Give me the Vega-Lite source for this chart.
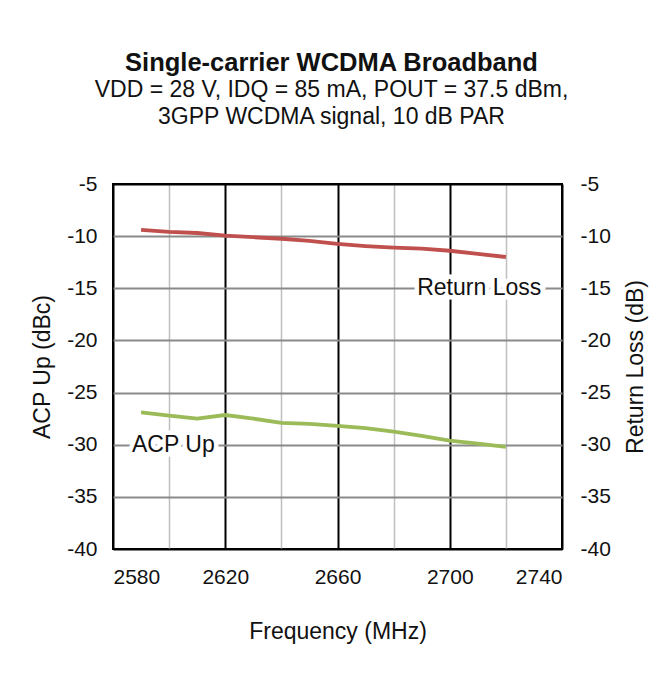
{
  "$schema": "https://vega.github.io/schema/vega-lite/v6.json",
  "width": 449,
  "height": 365,
  "autosize": {"type": "none"},
  "padding": {"left": 113, "top": 184, "right": 104, "bottom": 127},
  "background": "white",
  "config": {
    "font": "Liberation Sans",
    "view": {"stroke": "black", "strokeWidth": 2},
    "axis": {
      "labelFont": "Liberation Sans",
      "titleFont": "Liberation Sans",
      "labelColor": "#111",
      "titleColor": "#111",
      "domain": false,
      "ticks": false,
      "labelFontSize": 21,
      "titleFontSize": 23,
      "titleFontWeight": "normal"
    }
  },
  "title": {
    "text": "Single-carrier WCDMA Broadband",
    "subtitle": ["VDD = 28 V, IDQ = 85 mA, POUT = 37.5 dBm,", "3GPP WCDMA signal, 10 dB PAR"],
    "font": "Liberation Sans",
    "subtitleFont": "Liberation Sans",
    "fontSize": 25.5,
    "fontWeight": "bold",
    "subtitleFontSize": 23,
    "subtitleLineHeight": 27,
    "subtitlePadding": 3,
    "color": "#111",
    "subtitleColor": "#111",
    "anchor": "middle",
    "dx": -6,
    "offset": 44
  },
  "datasets": {
    "curves": [
      {"freq": 2590, "acp": -26.9, "rl": -9.4},
      {"freq": 2600, "acp": -27.2, "rl": -9.6},
      {"freq": 2610, "acp": -27.5, "rl": -9.7},
      {"freq": 2620, "acp": -27.15, "rl": -9.95},
      {"freq": 2630, "acp": -27.5, "rl": -10.1},
      {"freq": 2640, "acp": -27.9, "rl": -10.25},
      {"freq": 2650, "acp": -28.0, "rl": -10.45},
      {"freq": 2660, "acp": -28.2, "rl": -10.75},
      {"freq": 2670, "acp": -28.4, "rl": -10.95},
      {"freq": 2680, "acp": -28.75, "rl": -11.1},
      {"freq": 2690, "acp": -29.15, "rl": -11.2},
      {"freq": 2700, "acp": -29.6, "rl": -11.4},
      {"freq": 2710, "acp": -29.9, "rl": -11.7},
      {"freq": 2720, "acp": -30.2, "rl": -12.0}
    ],
    "labels": [
      {"label": "ACP Up", "freq": 2601.5, "val": -30},
      {"label": "Return Loss", "freq": 2710.5, "val": -15}
    ]
  },
  "encoding": {
    "x": {
      "field": "freq",
      "type": "quantitative",
      "scale": {"domain": [2580, 2740], "nice": false, "zero": false},
      "axis": {
        "title": "Frequency (MHz)",
        "values": [2580, 2600, 2620, 2640, 2660, 2680, 2700, 2720, 2740],
        "labelExpr": "datum.value % 40 == 20 ? '' + datum.value : ''",
        "labelPadding": 17,
        "titlePadding": 33,
        "grid": true,
        "gridColor": {"condition": {"test": "datum.value % 40 == 20", "value": "#000000"}, "value": "#bfbfbf"},
        "gridWidth": {"condition": {"test": "datum.value % 40 == 20", "value": 2}, "value": 1.5},
        "gridOpacity": 1
      }
    }
  },
  "layer": [
    {
      "data": {"name": "curves"},
      "mark": {"type": "line", "color": "#9bbb59", "strokeWidth": 3.8},
      "encoding": {
        "y": {
          "field": "acp",
          "type": "quantitative",
          "scale": {"domain": [-40, -5], "nice": false, "zero": false},
          "axis": {
            "orient": "left",
            "title": "ACP Up (dBc)",
            "values": [-40, -35, -30, -25, -20, -15, -10, -5],
            "labelExpr": "'' + datum.value",
            "grid": true,
            "gridColor": {"condition": {"test": "datum.value <= -40 || datum.value >= -5", "value": "#000000"}, "value": "#8a8a8a"},
            "gridWidth": 2,
            "labelPadding": 16,
            "titlePadding": 12
          }
        }
      }
    },
    {
      "data": {"name": "curves"},
      "mark": {"type": "line", "color": "#c0504d", "strokeWidth": 3.8},
      "encoding": {
        "y": {
          "field": "rl",
          "type": "quantitative",
          "scale": {"domain": [-40, -5], "nice": false, "zero": false},
          "axis": {
            "orient": "right",
            "title": "Return Loss (dB)",
            "titleAngle": 270,
            "titleBaseline": "top",
            "values": [-40, -35, -30, -25, -20, -15, -10, -5],
            "labelExpr": "'' + datum.value",
            "grid": false,
            "labelPadding": 18,
            "titlePadding": 14
          }
        }
      }
    },
    {
      "data": {"name": "labels"},
      "mark": {"type": "text", "fontSize": 23, "font": "Liberation Sans", "stroke": "white", "strokeWidth": 9, "fill": "white"},
      "encoding": {
        "text": {"field": "label"},
        "y": {"field": "val", "type": "quantitative", "scale": {"domain": [-40, -5], "nice": false, "zero": false}, "axis": null}
      }
    },
    {
      "data": {"name": "labels"},
      "mark": {"type": "text", "fontSize": 23, "font": "Liberation Sans", "color": "#111"},
      "encoding": {
        "text": {"field": "label"},
        "y": {"field": "val", "type": "quantitative", "scale": {"domain": [-40, -5], "nice": false, "zero": false}, "axis": null}
      }
    }
  ],
  "resolve": {"scale": {"y": "independent"}}
}
